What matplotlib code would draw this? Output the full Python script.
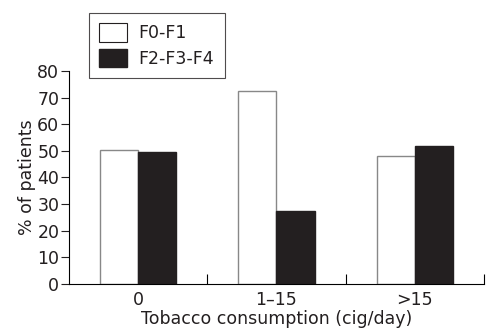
import numpy as np
import matplotlib.pyplot as plt
from matplotlib.patches import Patch

categories = ["0", "1\u201315", ">15"]
f0_f1 = [50.5, 72.5, 48.0]
f2_f4 = [49.5, 27.5, 52.0]
series_names = ["F0-F1", "F2-F3-F4"]

plt.rcParams['font.family'] = ['DejaVu Sans']
fs = 12.5
fig = plt.figure(figsize=(4.87, 3.35), dpi=100)
ax = fig.add_axes([0.1417, 0.1522, 0.852, 0.636])

x = np.arange(len(categories))
w = 0.275
ax.bar(x - w / 2, f0_f1, w, color='white', edgecolor='#888888', linewidth=1.0)
ax.bar(x + w / 2, f2_f4, w, color='#231f20', edgecolor='#231f20', linewidth=1.0)

ax.set_xlim(-0.5, 2.5)
ax.set_ylim(0, 80)
ax.set_yticks(range(0, 81, 10))
ax.set_xticks(x)
ax.set_xticklabels(categories)
ax.set_xticks([0.5, 1.5, 2.5], minor=True)
ax.tick_params(axis='x', which='major', length=0, labelsize=fs, pad=5, colors='#231f20')
ax.tick_params(axis='x', which='minor', direction='in', length=7, width=0.8)
ax.tick_params(axis='y', direction='out', length=6, width=0.8, labelsize=fs, pad=1,
               colors='#231f20')

for s in ['top', 'right']:
    ax.spines[s].set_visible(False)
for s in ['left', 'bottom']:
    ax.spines[s].set_linewidth(0.8)

ax.set_xlabel("Tobacco consumption (cig/day)", fontsize=fs, labelpad=1, color='#231f20')
ax.set_ylabel("% of patients", fontsize=fs, labelpad=1, color='#231f20')

handles = [Patch(facecolor='white', edgecolor='#231f20', linewidth=0.8),
           Patch(facecolor='#231f20', edgecolor='#231f20')]
leg = fig.legend(handles, series_names, loc='upper left',
                 bbox_to_anchor=(89 / 487, 1 - 13 / 335), fontsize=fs,
                 frameon=True, fancybox=False, edgecolor='#231f20',
                 handlelength=1.6, handleheight=1.25, borderpad=0.6,
                 labelspacing=0.35, handletextpad=0.65, borderaxespad=0)
leg.get_frame().set_linewidth(0.8)
for t in leg.get_texts():
    t.set_color('#231f20')

fig.savefig("out.png", dpi=100)
